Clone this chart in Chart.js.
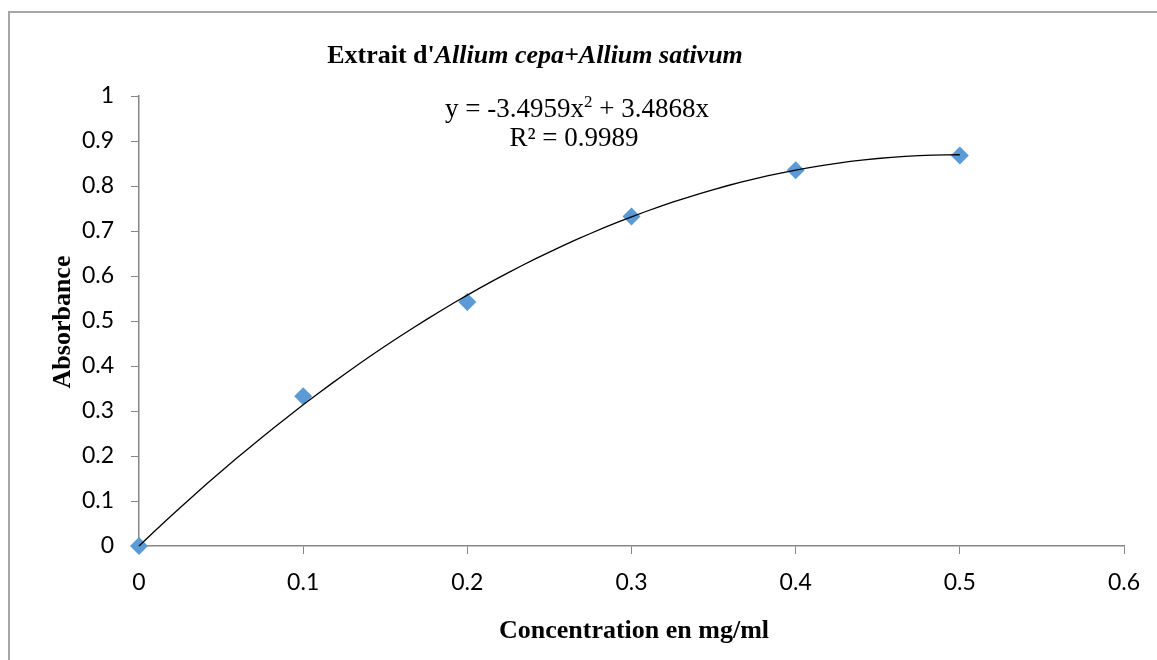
<!DOCTYPE html>
<html>
<head>
<meta charset="utf-8">
<script src="https://cdn.jsdelivr.net/npm/chart.js@4"></script>
<style>
  html, body { margin: 0; padding: 0; background: #fff; }
  #wrap { width: 1157px; height: 660px; position: relative; }
</style>
</head>
<body>
<div id="wrap"><canvas id="chart" width="1157" height="660"></canvas></div>
<script>
// Concentrations (mg/ml) and measured absorbance
const concentrations = [0, 0.1, 0.2, 0.3, 0.4, 0.5];
const absorbance = [0, 0.333, 0.542, 0.732, 0.835, 0.868];

// Polynomial trendline y = a*x^2 + b*x (order 2, intercept 0)
const trendCoefficients = [-3.4959, 3.4868];
const trendLabel = 'y = -3.4959x';
const trendLabelTail = ' + 3.4868x';
const rSquaredLabel = 'R\u00B2 = 0.9989';

const xTicks = [0, 0.1, 0.2, 0.3, 0.4, 0.5, 0.6];
const yTicks = [0, 0.1, 0.2, 0.3, 0.4, 0.5, 0.6, 0.7, 0.8, 0.9, 1];

// Sample the fitted curve across the measured range
const trendPoints = [];
const steps = 60;
const xMax = concentrations[concentrations.length - 1];
for (let i = 0; i <= steps; i++) {
  const x = xMax * i / steps;
  trendPoints.push({ x: x, y: trendCoefficients[0] * x * x + trendCoefficients[1] * x });
}

const AXIS_COLOR = '#878787';
const SERIF = '"Liberation Serif", "Times New Roman", serif';

const fmt = v => String(Number(v.toFixed(1)));

const decorations = {
  id: 'decorations',
  beforeDraw(chart) {
    const ctx = chart.ctx;
    ctx.save();
    ctx.fillStyle = '#fff';
    ctx.fillRect(0, 0, chart.width, chart.height);
    ctx.strokeStyle = '#a6a6a6';
    ctx.lineWidth = 2;
    ctx.strokeRect(9, 12, chart.width + 20, chart.height + 20);
    ctx.restore();
  },
  afterDraw(chart) {
    const ctx = chart.ctx;
    ctx.save();
    ctx.fillStyle = '#000';
    ctx.textBaseline = 'alphabetic';

    // Chart title: plain bold prefix, bold italic species names
    const tFont1 = 'bold 26px ' + SERIF;
    const tFont2 = 'italic bold 26px ' + SERIF;
    const p1 = "Extrait d'", p2 = 'Allium cepa+Allium sativum';
    ctx.font = tFont1; const w1 = ctx.measureText(p1).width;
    ctx.font = tFont2; const w2 = ctx.measureText(p2).width;
    let x = 535 - (w1 + w2) / 2;
    ctx.font = tFont1; ctx.fillText(p1, x, 63);
    ctx.font = tFont2; ctx.fillText(p2, x + w1, 63);

    // Trendline equation with superscript exponent
    const eFont = '27px ' + SERIF, sFont = '17px ' + SERIF;
    ctx.font = eFont; const a = ctx.measureText(trendLabel).width;
    const c = ctx.measureText(trendLabelTail).width;
    ctx.font = sFont; const b = ctx.measureText('2').width;
    x = 577 - (a + b + c) / 2;
    ctx.font = eFont; ctx.fillText(trendLabel, x, 117);
    ctx.font = sFont; ctx.fillText('2', x + a, 107);
    ctx.font = eFont; ctx.fillText(trendLabelTail, x + a + b, 117);
    ctx.textAlign = 'center';
    ctx.fillText(rSquaredLabel, 574, 146);

    // Axis titles
    ctx.font = 'bold 26px ' + SERIF;
    ctx.fillText('Concentration en mg/ml', 634, 638);
    ctx.translate(70, 322);
    ctx.rotate(-Math.PI / 2);
    ctx.fillText('Absorbance', 0, 0);
    ctx.restore();
  }
};

new Chart(document.getElementById('chart'), {
  type: 'scatter',
  data: {
    datasets: [
      {
        label: 'Trendline',
        type: 'line',
        data: trendPoints,
        borderColor: '#000',
        borderWidth: 1.3,
        pointRadius: 0,
        fill: false,
        tension: 0,
        clip: false,
        order: 0
      },
      {
        label: 'Absorbance',
        data: concentrations.map((c, i) => ({ x: c, y: absorbance[i] })),
        pointStyle: 'rectRot',
        pointRadius: 9,
        pointBackgroundColor: '#5b9bd5',
        pointBorderColor: '#5b9bd5',
        pointBorderWidth: 0,
        showLine: false,
        clip: false,
        order: 1
      }
    ]
  },
  options: {
    responsive: false,
    animation: false,
    devicePixelRatio: 1,
    layout: { padding: { left: 0, top: 96, right: 33, bottom: 0 } },
    plugins: {
      legend: { display: false },
      tooltip: { enabled: false },
      title: { display: false }
    },
    scales: {
      x: {
        type: 'linear',
        min: 0, max: 0.6,
        afterFit: s => { s.height = 114; },
        afterBuildTicks: s => { s.ticks = xTicks.map(v => ({ value: v })); },
        grid: { display: true, drawOnChartArea: false, drawTicks: true, tickLength: 8, color: AXIS_COLOR, lineWidth: 1 },
        border: { display: true, color: AXIS_COLOR, width: 1.5 },
        ticks: {
          padding: 15,
          color: '#000',
          font: { family: 'Lato', size: 23 },
          maxRotation: 0,
          callback: v => fmt(v)
        }
      },
      y: {
        type: 'linear',
        min: 0, max: 1,
        afterFit: s => { s.width = 139; },
        afterBuildTicks: s => { s.ticks = yTicks.map(v => ({ value: v })); },
        grid: { display: true, drawOnChartArea: false, drawTicks: true, tickLength: 8, color: AXIS_COLOR, lineWidth: 1 },
        border: { display: true, color: AXIS_COLOR, width: 1.5 },
        ticks: {
          padding: 17,
          color: '#000',
          font: { family: 'Lato', size: 23 },
          callback: v => fmt(v)
        }
      }
    }
  },
  plugins: [decorations]
});
</script>
</body>
</html>
